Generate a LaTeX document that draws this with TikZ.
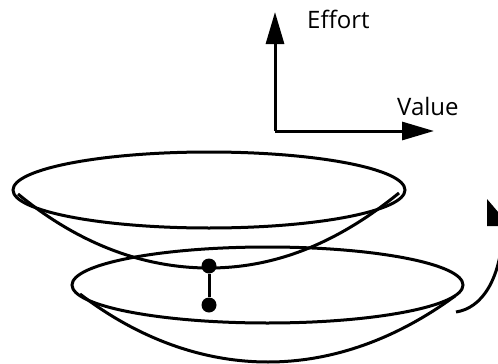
\documentclass[tikz,border=0pt]{standalone}
\usepackage{fontspec}
\setmainfont{Open Sans}
\usetikzlibrary{arrows.meta}
\begin{document}
\begin{tikzpicture}[x=1pt,y=-1pt,
  line/.style={line width=3pt},
  axis/.style={line width=3pt,-{Triangle[length=32pt,width=18pt]}},
  lbl/.style={font=\fontsize{24}{28}\selectfont,anchor=base west,inner sep=0pt},
  dot/.style={circle,fill=black,inner sep=0pt,minimum size=15pt}]
\useasboundingbox (0,0) rectangle (498,364);
\clip (0,0) rectangle (498,364);
% axes
\coordinate (o) at (275,131);
\coordinate (ytip) at (275,12);
\coordinate (xtip) at (434,131);
\draw[axis] (o) -- (ytip);
\draw[axis] (o) -- (xtip);
\node[lbl] (effort) at (307,28) {Effort};
\node[lbl] (value) at (397,115) {Value};
% top bowl
\draw[line] (209,190) ellipse [x radius=196, y radius=38];
\draw[line] (18,194) .. controls (80,245) and (145,268) .. (209,268)
  .. controls (273,268) and (335,245) .. (399,193);
% bottom bowl
\draw[line] (267.5,285) ellipse [x radius=195.5, y radius=38];
\draw[line] (80,294) .. controls (140,340) and (205,362) .. (268,362)
  .. controls (331,362) and (395,340) .. (455,296);
% dots
\node[dot] (d1) at (209,266) {};
\node[dot] (d2) at (209,305) {};
\draw[line] (d1) -- (d2);
% curved arrow at right
\coordinate (cs) at (456,312);
\coordinate (ce) at (503,232);
\draw[line] (cs) .. controls (482,308) and (500,280) .. (ce);
\fill (487,199) -- (487,226) -- (510,226) -- cycle;
\end{tikzpicture}
\end{document}
